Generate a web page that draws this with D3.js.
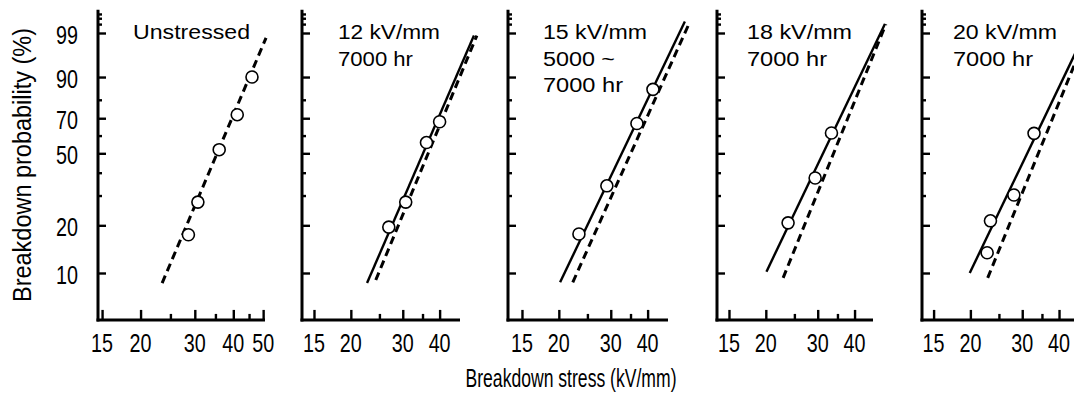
<!DOCTYPE html>
<html>
<head>
<meta charset="utf-8">
<script src="https://cdn.jsdelivr.net/npm/d3@7"></script>
<style>
  html, body { margin: 0; padding: 0; background: #fff; }
  svg { display: block; font-family: "Liberation Sans", Arial, Helvetica, sans-serif; }
</style>
</head>
<body>
<svg id="chart" width="1074" height="401"></svg>
<script>
// Weibull plots of breakdown stress: unstressed reference and four ageing conditions

// panel captions (one line per entry)
const panelCaptions = [
  ["Unstressed"],
  ["12 kV/mm", "7000 hr"],
  ["15 kV/mm", "5000 ~", "7000 hr"],
  ["18 kV/mm", "7000 hr"],
  ["20 kV/mm", "7000 hr"]
];

// measured breakdowns: [stress kV/mm, cumulative probability %]
const pointsUnstressed = [[28.6, 17.5], [30.7, 27.5], [36.0, 52], [41.2, 72], [46.0, 90]];
const points12kV = [[26.9, 19.5], [30.7, 27.5], [36.1, 56], [40.0, 68]];
const points15kV = [[23.4, 17.7], [29.1, 34], [36.8, 67], [41.7, 85]];
const points18kV = [[23.8, 20.7], [29.4, 37.5], [33.4, 61.5]];
const points20kV = [[22.8, 13.5], [23.4, 21.3], [28.1, 30.2], [32.9, 61.3]];

// fitted Weibull lines after ageing (solid), end points [stress, %]
const agedFit = [
  null,
  [[22.7, 8.6], [52.3, 98.8]],
  [[20.2, 8.7], [53.5, 99.6]],
  [[20.1, 10.2], [50.7, 99.5]],
  [[19.9, 10.0], [49.0, 99.0]]
];

// unstressed reference fit (dashed), end points [stress, %]
const referenceFit = [
  [[23.5, 8.6], [51.1, 98.6]],
  [[24.3, 9.0], [53.5, 98.8]],
  [[22.3, 8.7], [55.7, 99.6]],
  [[22.9, 9.3], [51.1, 99.5]],
  [[22.9, 9.3], [49.9, 99.0]]
];

// axis ranges and ticks
const stressDomains = [[14.55, 50.7], [13.66, 46.9], [13.45, 46.9], [13.66, 46.2], [13.7, 47.5]];
const stressTicks = [[15, 20, 30, 40, 50], [15, 20, 30, 40], [15, 20, 30, 40], [15, 20, 30, 40], [15, 20, 30, 40]];
const stressMinorTicks = [[25, 35, 45], [25, 35], [25, 35], [25, 35], [25, 35]];
const probRange = [4.91, 99.87];
const probTicks = [10, 20, 50, 70, 90, 99];
const probMinorTicks = [30, 40, 60, 80, 99.5, 99.7, 99.8];

const pointSets = [pointsUnstressed, points12kV, points15kV, points18kV, points20kV];

// ---- layout ----
const panelBoxes = [
  { left: 98, right: 265 },
  { left: 302, right: 460 },
  { left: 508, right: 668 },
  { left: 717, right: 873 },
  { left: 922, right: 1081 }
];
const captionWidths = [[117], [102, 75], [104, 72, 80], [105, 80], [104, 80]];
const captionOffset = [35, 36, 35, 30, 31];
const digitSquash = 0.76; // tick numerals are drawn condensed

const svg = d3.select("#chart");

// Weibull probability transform ln(-ln(1-F))
const weib = p => Math.log(-Math.log(1 - p / 100));
const yW = d3.scaleLinear().domain([weib(10), weib(99)]).range([273, 33]);
const y = p => yW(weib(p));
const axisY = y(probRange[0]);

panelBoxes.forEach((box, i) => {
  const x = d3.scaleLog().domain(stressDomains[i]).range([box.left, box.right]);
  const g = svg.append("g");

  // y ticks (inward)
  const yMaj = g.append("g").attr("transform", `translate(${box.left},0)`)
    .call(d3.axisRight(yW).tickValues(probTicks.map(weib)).tickSize(8).tickFormat(""));
  const yMin = g.append("g").attr("transform", `translate(${box.left},0)`)
    .call(d3.axisRight(yW).tickValues(probMinorTicks.map(weib)).tickSize(4).tickFormat(""));
  // x ticks (inward)
  const xMaj = g.append("g").attr("transform", `translate(0,${axisY})`)
    .call(d3.axisTop(x).tickValues(stressTicks[i]).tickSize(10).tickFormat(""));
  const xMin = g.append("g").attr("transform", `translate(0,${axisY})`)
    .call(d3.axisTop(x).tickValues(stressMinorTicks[i]).tickSize(6).tickFormat(""));
  [yMaj, yMin, xMaj, xMin].forEach(a => {
    a.select(".domain").remove();
    a.selectAll("line").attr("stroke", "#000").attr("stroke-width", 2.4);
  });

  // axis lines
  g.append("line")
    .attr("x1", box.left).attr("x2", box.left)
    .attr("y1", y(probRange[1])).attr("y2", axisY + 1.5)
    .attr("stroke", "#000").attr("stroke-width", 3);
  g.append("line")
    .attr("x1", box.left - 1.5).attr("x2", box.right)
    .attr("y1", axisY).attr("y2", axisY)
    .attr("stroke", "#000").attr("stroke-width", 3);

  // x tick labels
  g.selectAll("text.xl").data(stressTicks[i]).join("text")
    .attr("class", "xl")
    .attr("transform", d => `translate(${x(d)},352) scale(${digitSquash},1)`)
    .attr("text-anchor", "middle")
    .attr("font-size", 26)
    .text(d => d);

  // y tick labels on the first panel only
  if (i === 0) {
    g.selectAll("text.yl").data(probTicks).join("text")
      .attr("class", "yl")
      .attr("transform", d => `translate(78,${y(d) + 11}) scale(${digitSquash},1)`)
      .attr("text-anchor", "end")
      .attr("font-size", 26)
      .text(d => d);
  }

  const line = d3.line().x(d => x(d[0])).y(d => y(d[1]));

  // reference fit (dashed)
  g.append("path")
    .attr("d", line(referenceFit[i]))
    .attr("fill", "none").attr("stroke", "#000")
    .attr("stroke-width", 3).attr("stroke-dasharray", "8,5");

  // aged fit (solid)
  if (agedFit[i]) {
    g.append("path")
      .attr("d", line(agedFit[i]))
      .attr("fill", "none").attr("stroke", "#000")
      .attr("stroke-width", 2.4);
  }

  // data points
  g.selectAll("circle").data(pointSets[i]).join("circle")
    .attr("cx", d => x(d[0])).attr("cy", d => y(d[1]))
    .attr("r", 6)
    .attr("fill", "#fff").attr("stroke", "#000").attr("stroke-width", 1.6);

  // caption
  panelCaptions[i].forEach((t, k) => {
    g.append("text")
      .attr("x", box.left + captionOffset[i])
      .attr("y", 39 + k * 26.5)
      .attr("font-size", 20)
      .attr("textLength", captionWidths[i][k]).attr("lengthAdjust", "spacingAndGlyphs")
      .text(t);
  });
});

// axis titles
svg.append("text")
  .attr("transform", "translate(31,165) rotate(-90)")
  .attr("text-anchor", "middle")
  .attr("font-size", 25)
  .attr("textLength", 274).attr("lengthAdjust", "spacingAndGlyphs")
  .text("Breakdown probability (%)");

svg.append("text")
  .attr("x", 571).attr("y", 387)
  .attr("text-anchor", "middle")
  .attr("font-size", 25)
  .attr("textLength", 211).attr("lengthAdjust", "spacingAndGlyphs")
  .text("Breakdown stress (kV/mm)");
</script>
</body>
</html>
